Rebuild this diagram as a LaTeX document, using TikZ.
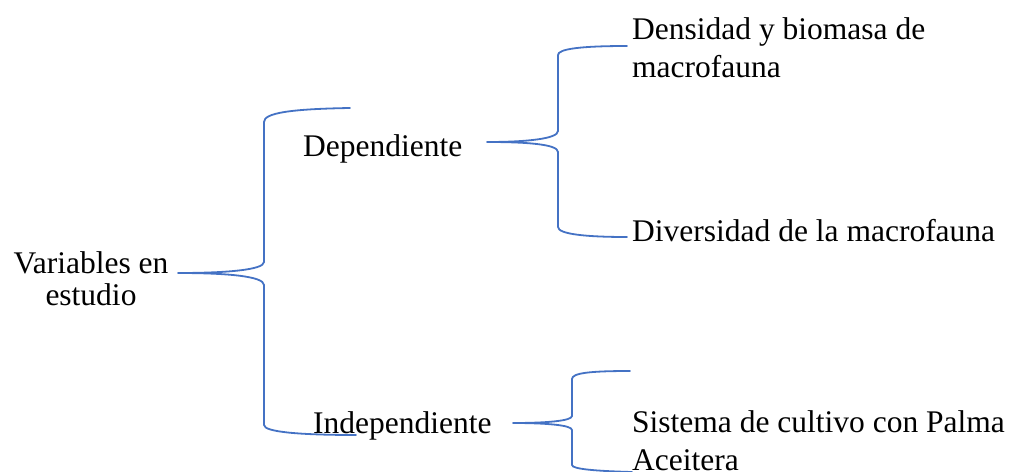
\documentclass[tikz,border=0pt]{standalone}
\usepackage{fontspec}
\setmainfont{Liberation Serif}
\tikzset{
  lbl/.style={inner sep=0pt, anchor=base west, font=\fontsize{31.5}{37.5}\selectfont, align=left},
  brace/.style={draw=bracecol, line width=1.8pt, line cap=round, line join=round}
}
\definecolor{bracecol}{RGB}{68,114,196}
\begin{document}
\begin{tikzpicture}[x=1pt,y=-1pt]
\useasboundingbox (0,0) rectangle (1011,471);
% labels (base anchor = baseline of the last line)
\node[lbl, anchor=base, align=center, font=\fontsize{31.5}{32}\selectfont] (var) at (91,305) {Variables en\\estudio};
\node[lbl] (dep) at (303,156) {Dependiente};
\node[lbl] (ind) at (313,433) {Independiente};
\node[lbl] (den) at (632,77) {Densidad y biomasa de\\macrofauna};
\node[lbl] (div) at (632,241) {Diversidad de la macrofauna};
\node[lbl] (sis) at (632,470) {Sistema de cultivo con Palma\\Aceitera};
% brace coordinates
\coordinate (t1) at (178,273);
\coordinate (a1) at (350,108);
\coordinate (b1) at (356,435);
\coordinate (t2) at (487,142);
\coordinate (a2) at (627,46);
\coordinate (b2) at (627,237);
\coordinate (t3) at (513,423);
\coordinate (a3) at (630,371);
\coordinate (b3) at (632,472);
% brace 1
\draw[brace] (a1) .. controls (290,109) and (264,113) .. (264,122) -- (264,262)
  .. controls (264,270) and (225,273) .. (t1)
  .. controls (225,273) and (264,276) .. (264,285) -- (264,425)
  .. controls (264,432) and (300,435) .. (b1);
% brace 2
\draw[brace] (a2) .. controls (580,46) and (558,49) .. (558,55) -- (558,131)
  .. controls (558,139) and (525,142) .. (t2)
  .. controls (525,142) and (558,144) .. (558,152) -- (558,227)
  .. controls (558,234) and (585,237) .. (b2);
% brace 3
\draw[brace] (a3) .. controls (590,371) and (572,373) .. (572,379) -- (572,416)
  .. controls (572,421) and (545,423) .. (t3)
  .. controls (545,423) and (572,425) .. (572,430) -- (572,465)
  .. controls (572,469) and (595,471) .. (b3);
\end{tikzpicture}
\end{document}
